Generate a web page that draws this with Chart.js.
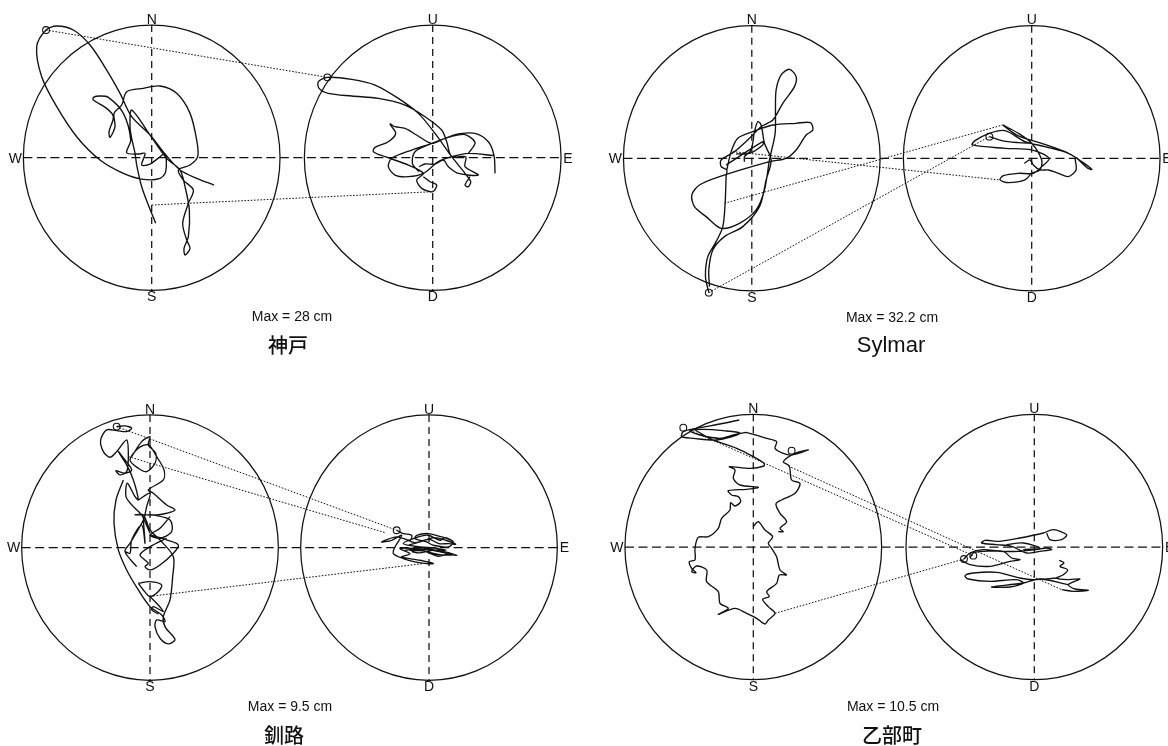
<!DOCTYPE html>
<html>
<head>
<meta charset="utf-8">
<title>Particle orbits</title>
<script src="https://cdn.jsdelivr.net/npm/chart.js@4"></script>
<style>
  html, body { margin: 0; padding: 0; background: #fff; }
  body { position: relative; width: 1168px; height: 746px; overflow: hidden; }
  canvas { position: absolute; }
</style>
</head>
<body>
<canvas id="kobe"></canvas>
<canvas id="sylmar"></canvas>
<canvas id="kushiro"></canvas>
<canvas id="otobe"></canvas>
<script>
// Orbits, as [east, north] or [east, up] offsets from the circle centre.
// One unit is a third of a picture pixel, so the circle edge (Max) is about 385 across, 398 up.
// null = pen lift between strokes.
const kobeHoriz = [[187,-82],[135,-62],[85,-37],[40,11],[-5,68],[-60,123],[-95,193],[-135,263],[-185,338],[-235,383],[-285,395],[-317,383],[-345,333],[-330,243],[-285,153],[-225,63],[-155,-7],[-85,-47],[-25,-65],[25,-62],[42,-42],[40,11],[15,-5],[-5,-19],[-30,-22],[-20,13],[-40,11],[-75,15],[-63,53],[-85,133],[-130,181],[-155,185],[-175,181],[-175,173],[-135,148],[-115,123],[-128,78],[-125,61],[-110,93],[-113,133],[-90,158],[-75,198],[-25,208],[25,215],[75,193],[115,133],[135,53],[138,3],[115,-22],[80,-37],[95,-67],[125,-97],[110,-137],[93,-197],[105,-247],[115,-272],[100,-292],[97,-272],[110,-237],[113,-157],[100,-87],[85,-37],[45,-2],[-5,68],[-60,143],[-65,93],[-60,58],[-50,13],[-45,-22],[-30,-87],[-10,-142],[12,-197]];
const kobeVert = [[187,-47],[184,6],[167,48],[127,73],[77,71],[37,58],[-3,43],[-63,23],[-123,-2],[-133,-27],[-113,-52],[-73,-57],[-28,-47],[17,-12],[57,3],[107,13],[184,6],null,[107,13],[127,43],[117,58],[92,70],[37,58],[-3,43],[-48,68],[-83,88],[-113,93],[-128,101],[-111,73],[-133,48],[-173,31],[-178,18],[-143,3],[-73,-22],[-28,-47],[-48,-67],[-33,-92],[0,-102],[12,-82],[-8,-72],[-28,-57],null,[-3,43],[-53,18],[-61,-17],[-41,-42],null,[-41,-27],[-23,-19],[7,-19],[32,-7],[47,-27],[77,-47],[137,-52],[97,-27],[99,3],[57,3],[42,48],[27,83],[-23,123],[-83,158],[-163,178],[-243,185],[-313,193],[-341,208],[-343,228],[-316,241],[-243,235],[-173,218],[-103,178],[-43,133],[7,73],[57,3],[97,-47],[114,-72],[107,-87],[97,-82],[112,-57]];
const kobeStart = [[-317,383],[-316,241]];
const kobeLinks = [[-317,383,-316,241],[0,-142,0,-102]];

const sylmarHoriz = [[-129,-403],[-139,-355],[-132,-295],[-107,-250],[-87,-205],[-80,-135],[-77,-55],[-75,-35],[-92,-25],[-92,-5],[-52,20],[-7,60],[28,95],[63,115],[93,165],[128,215],[133,245],[113,267],[88,250],[73,205],[71,145],[70,75],[53,-5],[38,-95],[13,-155],[-37,-195],[-92,-210],[-137,-175],[-172,-145],[-180,-110],[-157,-80],[-97,-55],[53,-10],[103,0],[133,25],[163,70],[183,85],[176,107],[133,105],[63,100],[3,80],[-42,60],[-62,20],[-75,-35],null,[-127,-385],[-129,-335],[-117,-275],[-82,-235],[-27,-205],[23,-145],[43,-65],[58,-5],[38,45],[28,100],[18,110],[8,80],[-2,25],[-22,5],[-22,-10],null,[-77,-20],[33,50],[33,40],[-7,15],[-47,13]];
const sylmarVert = [[-87,100],[-40,75],[0,45],[30,-5],[25,-35],[0,-45],[-20,-65],[-70,-73],[-95,-65],[-85,-52],[-40,-45],[5,-45],[30,-25],[52,0],[0,25],[-80,30],[-178,40],[-170,53],[-127,75],[-80,83],[-20,50],[40,35],[110,15],[150,-10],[180,-33],[168,-30],[135,0],[100,20],[30,45],[-40,67],[-87,100],null,[-127,65],[-90,53],[-40,47],[0,45],null,[130,0],[133,-35],[110,-55],[80,-45],[50,-35],[25,-35],[5,-20],[-5,-5],[-22,-15]];
const sylmarStart = [[-129,-403],[-127,65]];
const sylmarLinks = [[-129,-403,-127,65],[-82,-135,-87,100],[-57,20,-95,-65]];

const kushiroHoriz = [[-100,363],[-75,365],[-55,358],[-70,348],[-100,351],[-130,353],[-148,323],[-140,288],[-120,271],[-100,288],[-70,323],[-65,273],[-70,228],[-90,218],[-102,231],[-75,223],[-55,233],[-75,263],[-95,288],[-70,248],[-50,203],[-35,143],[-45,153],[-68,193],[-72,153],[-50,123],[-25,98],[0,43],null,[-80,203],[-102,143],[-108,73],[-95,-7],[-70,-67],[-35,-127],[0,-177],[35,-202],[45,-222],[20,-217],[15,-237],[30,-272],[55,-289],[75,-277],[70,-267],[45,-237],[40,-207],[60,-157],[68,-87],[70,-27],[30,23],[0,53],[-20,98],[-45,98],[-10,98],[20,98],[50,103],[75,113],[50,128],[10,163],[-5,173],[40,203],[42,233],[20,273],[-5,308],[-35,298],[-60,263],[-35,238],[-10,228],[15,253],[17,283],[-5,308],[0,333],[-25,318],[-55,273],null,[-35,143],[0,163],[-10,123],[-20,83],[-60,13],[-75,-12],[-40,-57],null,[-75,-12],[-60,-17],[-55,23],[-25,68],[-15,13],[-20,83],null,[10,98],[60,83],[65,48],[30,28],[0,38],[30,58],[60,93],null,[0,38],[50,23],[85,8],[70,-17],[30,-52],[0,-67],[-15,-57],[-5,-47],[-30,-22],[0,3],[50,28],null,[-35,-107],[0,-102],[35,-112],[25,-132],[0,-147],[-20,-127],[-35,-107],null,[0,-147],[20,-167],[40,-192],[10,-177],[5,-187],[25,-199]];
const kushiroVert = [[-97,52],[-77,42],[-52,37],[-57,22],[-97,32],[-142,17],[-112,22],[-82,37],[-102,2],[-107,-18],[-77,-33],[-42,-43],[-7,-48],[13,-48],[-27,-38],[-82,-28],[-57,-18],[-87,-3],[-37,-3],[23,-8],[83,-23],[53,-18],[28,-3],[-27,2],[-77,12],[-32,32],[-2,37],[33,22],[48,30],[73,17],[58,2],[13,7],[-7,17],[-42,27],[-37,37],[-2,42],[38,32],[68,22],null,[-72,-8],[-32,-3],[-7,-13],[28,-26],[58,-16],[18,-8],[-32,2],[-57,-8],[-17,-10],[8,-16],[43,-23],null,[-60,-5],[-20,-8],[10,-18],[40,-22],[70,-22],[30,-12],[-10,-5],[-50,-12],[-30,-16],[10,-8],[50,-8],[20,-2],null,[-70,25],[-40,15],[0,25],[30,12],[60,12],[80,10],[50,22],[15,30],[-25,18],[-60,8]];
const kushiroStart = [[-100,363],[-97,52]];
const kushiroLinks = [[-100,363,-97,52],[-65,273,-132,45],[10,-145,-17,-48]];

const otobeHoriz = [[-42,381],[-100,369],[-170,356],[-210,346],[-215,331],[-180,326],[-110,321],[-40,341],[-90,349],[-150,353],[-190,349],[-160,336],[-100,326],[-60,336],[-22,344],null,[-175,351],[-125,323],[-50,296],[0,271],[32,251],[32,243],[-10,236],[-72,241],[-55,231],[-60,206],[-40,186],[15,179],[-20,173],[-75,169],[-65,156],[-45,151],[-38,136],[-55,123],[-68,133],[-70,111],[-95,86],[-105,56],[-135,31],[-165,29],[-175,-4],[-175,-39],[-192,-44],[-185,-64],[-172,-77],[-185,-74],[-170,-57],[-140,-69],[-140,-104],[-105,-134],[-100,-169],[-75,-184],[-105,-202],[-55,-184],[-20,-199],[10,-214],[35,-231],[45,-219],[65,-199],[45,-179],[28,-157],[48,-149],[40,-134],[70,-109],[78,-84],[100,-84],[80,-69],[70,-29],[55,-4],[45,11],[58,31],[35,51],[15,76],[0,61],null,[-22,344],[40,326],[70,316],[65,296],[90,281],[115,276],[165,291],[125,281],[90,256],[108,243],[115,201],[140,191],[125,161],[85,141],[68,129],[80,101],[100,76],[80,56],[90,46],[75,46]];
const otobeVert = [[82,-128],[117,-133],[162,-130],[122,-126],[102,-113],[137,-96],[102,-98],[67,-93],[87,-83],[100,-68],[77,-58],[89,-48],[75,-40],null,[102,-113],[17,-96],[-33,-108],[-128,-120],[-73,-120],[-33,-108],[-53,-98],[-133,-103],[-198,-96],[-208,-86],[-183,-78],[-113,-76],[-43,-93],[-3,-98],[67,-93],null,[-211,-36],[-193,-18],[-153,-8],[-103,-13],[-48,-13],[7,-8],[37,-3],[52,-8],[17,-13],[-23,-18],[-68,2],[-113,7],[-158,12],[-148,20],[-103,17],[-43,27],[27,42],[57,52],[97,37],[82,22],[47,22],[37,42],null,[-221,-38],[-193,-53],[-133,-58],[-73,-43],[-43,-38],[-68,-33],[-93,-13],[-153,-13],[-183,-18],[-193,-33],null,[-33,-8],[17,-3],[-33,12],[-83,7]];
const otobeStartHoriz = [[-210,358],[115,289]];
const otobeStartVert = [[-211,-36],[-183,-26]];
const otobeLinks = [[-180,346,-183,-26],[105,243,82,-128],[65,-199,-211,-36]];

const maxLabels = ['Max = 28 cm', 'Max = 32.2 cm', 'Max = 9.5 cm', 'Max = 10.5 cm'];
const siteNames = ['神戸', 'Sylmar', '釧路', '乙部町'];

const UNITS_PER_PX = 3;
const EDGE_X = 385;
const EDGE_Y = 398;
const INK = '#111';

const toPoints = (list) => list.map((p) => (p ? { x: p[0], y: p[1] } : { x: null, y: null }));

// circles, dashed cross hairs, compass letters and dotted links go through the chart's scales
const orbitFrame = {
  id: 'orbitFrame',
  beforeDatasetsDraw(chart, args, opts) {
    const { ctx } = chart;
    const xa = chart.scales.x;
    const xb = chart.scales.x2;
    const y = chart.scales.y;
    const cy = y.getPixelForValue(0);
    const ry = cy - y.getPixelForValue(EDGE_Y);
    const rx = xa.getPixelForValue(EDGE_X) - xa.getPixelForValue(0);
    const ca = xa.getPixelForValue(0);
    const cb = xb.getPixelForValue(0);

    ctx.save();
    ctx.strokeStyle = INK;
    ctx.lineWidth = 1.25;
    [ca, cb].forEach((cx) => {
      ctx.beginPath();
      ctx.ellipse(cx, cy, rx, ry, 0, 0, Math.PI * 2);
      ctx.stroke();
    });

    ctx.setLineDash([9, 4.5]);
    ctx.beginPath();
    ctx.moveTo(ca - rx, cy);
    ctx.lineTo(cb + rx + 2, cy);
    ctx.stroke();
    ctx.setLineDash([7, 5]);
    [ca, cb].forEach((cx) => {
      ctx.beginPath();
      ctx.moveTo(cx, cy - ry);
      ctx.lineTo(cx, cy + ry);
      ctx.stroke();
    });

    ctx.setLineDash([1.6, 1.6]);
    ctx.lineWidth = 1;
    opts.links.forEach((l) => {
      ctx.beginPath();
      ctx.moveTo(xa.getPixelForValue(l[0]), y.getPixelForValue(l[1]));
      ctx.lineTo(xb.getPixelForValue(l[2]), y.getPixelForValue(l[3]));
      ctx.stroke();
    });
    ctx.setLineDash([]);

    ctx.fillStyle = '#111';
    ctx.textAlign = 'center';
    ctx.textBaseline = 'middle';
    ctx.font = '14px "Liberation Sans"';
    ctx.fillText('N', ca, cy - ry - 5);
    ctx.fillText('S', ca, cy + ry + 7);
    ctx.fillText('U', cb, cy - ry - 5);
    ctx.fillText('D', cb, cy + ry + 7);
    ctx.fillText('W', ca - rx - 8, cy + 1);
    ctx.fillText('E', cb + rx + 7, cy + 1);

    ctx.fillText(opts.maxLabel, opts.caption.maxX, opts.caption.maxY);
    ctx.font = opts.caption.font;
    ctx.fillText(opts.name, opts.caption.nameX, opts.caption.nameY);
    ctx.restore();
  }
};

function orbitLine(list, axis) {
  return {
    data: toPoints(list),
    xAxisID: axis,
    yAxisID: 'y',
    showLine: true,
    spanGaps: false,
    borderColor: INK,
    borderWidth: 1.35,
    tension: 0.3,
    pointRadius: 0,
    clip: false
  };
}

function startMarks(list, axis) {
  return {
    data: toPoints(list),
    xAxisID: axis,
    yAxisID: 'y',
    showLine: false,
    pointRadius: 3.4,
    pointBorderWidth: 1.1,
    pointBorderColor: INK,
    pointBackgroundColor: 'rgba(0,0,0,0)',
    clip: false
  };
}

function drawPanel(id, box, caption, horiz, vert, marksHoriz, marksVert, links, index) {
  const canvas = document.getElementById(id);
  canvas.style.left = box.left + 'px';
  canvas.style.top = box.top + 'px';
  canvas.width = box.w;
  canvas.height = box.h;
  new Chart(canvas, {
    type: 'scatter',
    data: {
      datasets: [
        orbitLine(horiz, 'x'),
        orbitLine(vert, 'x2'),
        startMarks(marksHoriz, 'x'),
        startMarks(marksVert, 'x2')
      ]
    },
    options: {
      responsive: false,
      animation: false,
      layout: { padding: 0, autoPadding: false },
      plugins: {
        legend: { display: false },
        tooltip: { enabled: false },
        orbitFrame: { links, caption, maxLabel: maxLabels[index], name: siteNames[index] }
      },
      scales: {
        x: { type: 'linear', display: false, min: -box.cxa * UNITS_PER_PX, max: (box.w - box.cxa) * UNITS_PER_PX },
        x2: { type: 'linear', display: false, min: -box.cxb * UNITS_PER_PX, max: (box.w - box.cxb) * UNITS_PER_PX },
        y: { type: 'linear', display: false, min: -(box.h - box.cy) * UNITS_PER_PX, max: box.cy * UNITS_PER_PX }
      }
    },
    plugins: [orbitFrame]
  });
}

const cjkFont = '500 20px "Noto Sans CJK JP"';

drawPanel('kobe', { left: 0, top: 0, w: 600, h: 373, cxa: 151.7, cxb: 432.7, cy: 157.7 },
  { maxX: 292, maxY: 317, nameX: 288, nameY: 345, font: cjkFont },
  kobeHoriz, kobeVert, kobeStart.slice(0, 1), kobeStart.slice(1), kobeLinks, 0);
drawPanel('sylmar', { left: 600, top: 0, w: 568, h: 373, cxa: 151.8, cxb: 431.7, cy: 158.3 },
  { maxX: 292, maxY: 318, nameX: 291, nameY: 346, font: '22px "Liberation Sans"' },
  sylmarHoriz, sylmarVert, sylmarStart.slice(0, 1), sylmarStart.slice(1), sylmarLinks, 1);
drawPanel('kushiro', { left: 0, top: 373, w: 600, h: 373, cxa: 150, cxb: 429, cy: 174.6 },
  { maxX: 290, maxY: 334, nameX: 284, nameY: 362, font: cjkFont },
  kushiroHoriz, kushiroVert, kushiroStart.slice(0, 1), kushiroStart.slice(1), kushiroLinks, 2);
drawPanel('otobe', { left: 600, top: 373, w: 568, h: 373, cxa: 153.3, cxb: 434.3, cy: 174 },
  { maxX: 293, maxY: 334, nameX: 292, nameY: 362, font: cjkFont },
  otobeHoriz, otobeVert, otobeStartHoriz, otobeStartVert, otobeLinks, 3);
</script>
</body>
</html>
